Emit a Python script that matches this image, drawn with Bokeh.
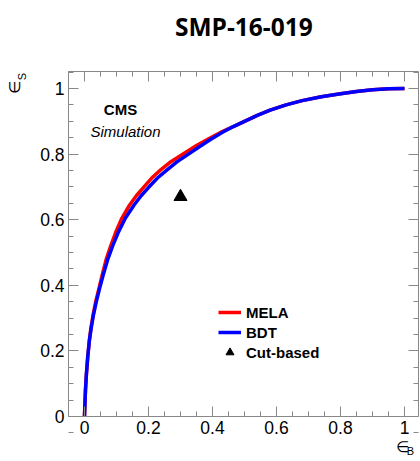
from bokeh.plotting import figure
from bokeh.models import Label, LinearAxis, FixedTicker, Legend, LegendItem, Range1d
from bokeh.embed import file_html
from bokeh.resources import INLINE

# ---- data ----
roc_y = [0.0, 0.03, 0.08, 0.13, 0.18, 0.23, 0.27, 0.31, 0.35, 0.39, 0.43, 0.48, 0.52, 0.56, 0.605, 0.645,
         0.673, 0.698, 0.727, 0.752, 0.777, 0.80, 0.826, 0.845, 0.866, 0.884, 0.90, 0.918, 0.934, 0.95,
         0.963, 0.975, 0.984, 0.991, 0.996, 0.999, 1.0]
mela_x = [0.0, 0.001, 0.003, 0.006, 0.01, 0.015, 0.02, 0.027, 0.035, 0.045, 0.055, 0.068, 0.082, 0.097,
          0.117, 0.141, 0.162, 0.184, 0.21, 0.238, 0.27, 0.308, 0.35, 0.385, 0.425, 0.465, 0.5, 0.54,
          0.58, 0.63, 0.68, 0.74, 0.8, 0.85, 0.9, 0.95, 1.0]
bdt_x = [0.0, 0.001, 0.003, 0.006, 0.01, 0.015, 0.021, 0.028, 0.037, 0.047, 0.058, 0.073, 0.088, 0.105,
         0.128, 0.155, 0.177, 0.20, 0.228, 0.258, 0.29, 0.325, 0.365, 0.395, 0.43, 0.465, 0.5, 0.54,
         0.58, 0.63, 0.68, 0.74, 0.8, 0.85, 0.9, 0.95, 1.0]
mela_y = roc_y
bdt_y = roc_y
cut_x = [0.3]
cut_y = [0.67]

x_lo, x_hi = -0.05, 1.044     # visible plot box in data units
y_lo, y_hi = 0.0, 1.052
major_ticks = [0, 0.2, 0.4, 0.6, 0.8, 1.0]
minor_ticks = [-0.05, 0.05, 0.1, 0.15, 0.25, 0.3, 0.35, 0.45, 0.5, 0.55, 0.65, 0.7, 0.75, 0.85, 0.9, 0.95, 1.05]
tick_labels = {0: "0", 0.2: "0.2", 0.4: "0.4", 0.6: "0.6", 0.8: "0.8", 1.0: "1"}

GREY = "#888888"
W, H = 420, 461

p = figure(width=W, height=H, output_backend="svg", toolbar_location=None,
           x_range=Range1d(-84 / 320, 336 / 320), y_range=Range1d(-45 / 328, 416 / 328),
           x_axis_location=None, y_axis_location=None, min_border=0)
p.xgrid.visible = False
p.ygrid.visible = False
p.outline_line_color = None
p.background_fill_color = "white"
p.border_fill_color = "white"

def make_axis(loc, bounds, labels=True):
    ax = LinearAxis(fixed_location=loc, bounds=bounds)
    ax.ticker = FixedTicker(ticks=major_ticks, minor_ticks=minor_ticks)
    ax.axis_line_color = GREY
    ax.major_tick_line_color = GREY
    ax.minor_tick_line_color = GREY
    ax.major_tick_in = 10
    ax.major_tick_out = 0
    ax.minor_tick_in = 5
    ax.minor_tick_out = 0
    if labels:
        ax.major_label_overrides = tick_labels
        ax.major_label_text_font = "Liberation Sans"
        ax.major_label_text_font_size = "17.5px"
        ax.major_label_text_color = "black"
        ax.major_label_standoff = 4
    else:
        ax.major_label_text_color = None
        ax.major_label_standoff = 0
    return ax

p.add_layout(make_axis(y_lo, (x_lo, x_hi)), "below")
p.add_layout(make_axis(x_lo, (y_lo, y_hi)), "left")
p.add_layout(make_axis(y_hi, (x_lo, x_hi), labels=False), "above")
p.add_layout(make_axis(x_hi, (y_lo, y_hi), labels=False), "right")

r_mela = p.line(mela_x, mela_y, line_color="#ff0000", line_width=3.5, line_join="round")
r_bdt = p.line(bdt_x, bdt_y, line_color="#0000ff", line_width=3.5, line_join="round")
r_cut = p.scatter(cut_x, cut_y, marker="triangle", size=13, fill_color="black", line_color="black")

legend = Legend(items=[LegendItem(label="MELA", renderers=[r_mela]),
                       LegendItem(label="BDT", renderers=[r_bdt]),
                       LegendItem(label="Cut-based", renderers=[r_cut])],
                location=(218, H - 362), padding=0, margin=0, spacing=0,
                glyph_width=23, glyph_height=20, label_height=20, label_standoff=5,
                label_text_font="Liberation Sans", label_text_font_style="bold",
                label_text_color="black",
                label_text_font_size="15px", background_fill_alpha=0, border_line_color=None)
p.add_layout(legend, "center")

def lab(text, px, py, size, font="Liberation Sans", style="normal", align="left", baseline="alphabetic", angle=0):
    # px, py: position in page pixels from top-left
    p.add_layout(Label(x=px, y=H - py, x_units="screen", y_units="screen", text=text,
                       text_font=font, text_font_size=size, text_font_style=style,
                       text_align=align, text_baseline=baseline, angle=angle, text_color="black"))

lab("SMP-16-019", 243.3, 26, "24.5px", font="Open Sans", style="bold", align="center")
lab("CMS", 103.3, 109.3, "15px", style="bold")
lab("Simulation", 90, 130.5, "15px", style="italic")
lab("\u2208", 14, 87, "15px", font="DejaVu Sans", align="center", baseline="middle", angle=1.5708)
lab("S", 21.5, 76, "11px", align="center", baseline="middle", angle=1.5708)
lab("\u2208", 402, 446, "15px", font="DejaVu Sans", align="center", baseline="middle")
lab("B", 410, 450, "11px", align="center", baseline="middle")

open("out.html", "w").write(file_html(p, INLINE))
